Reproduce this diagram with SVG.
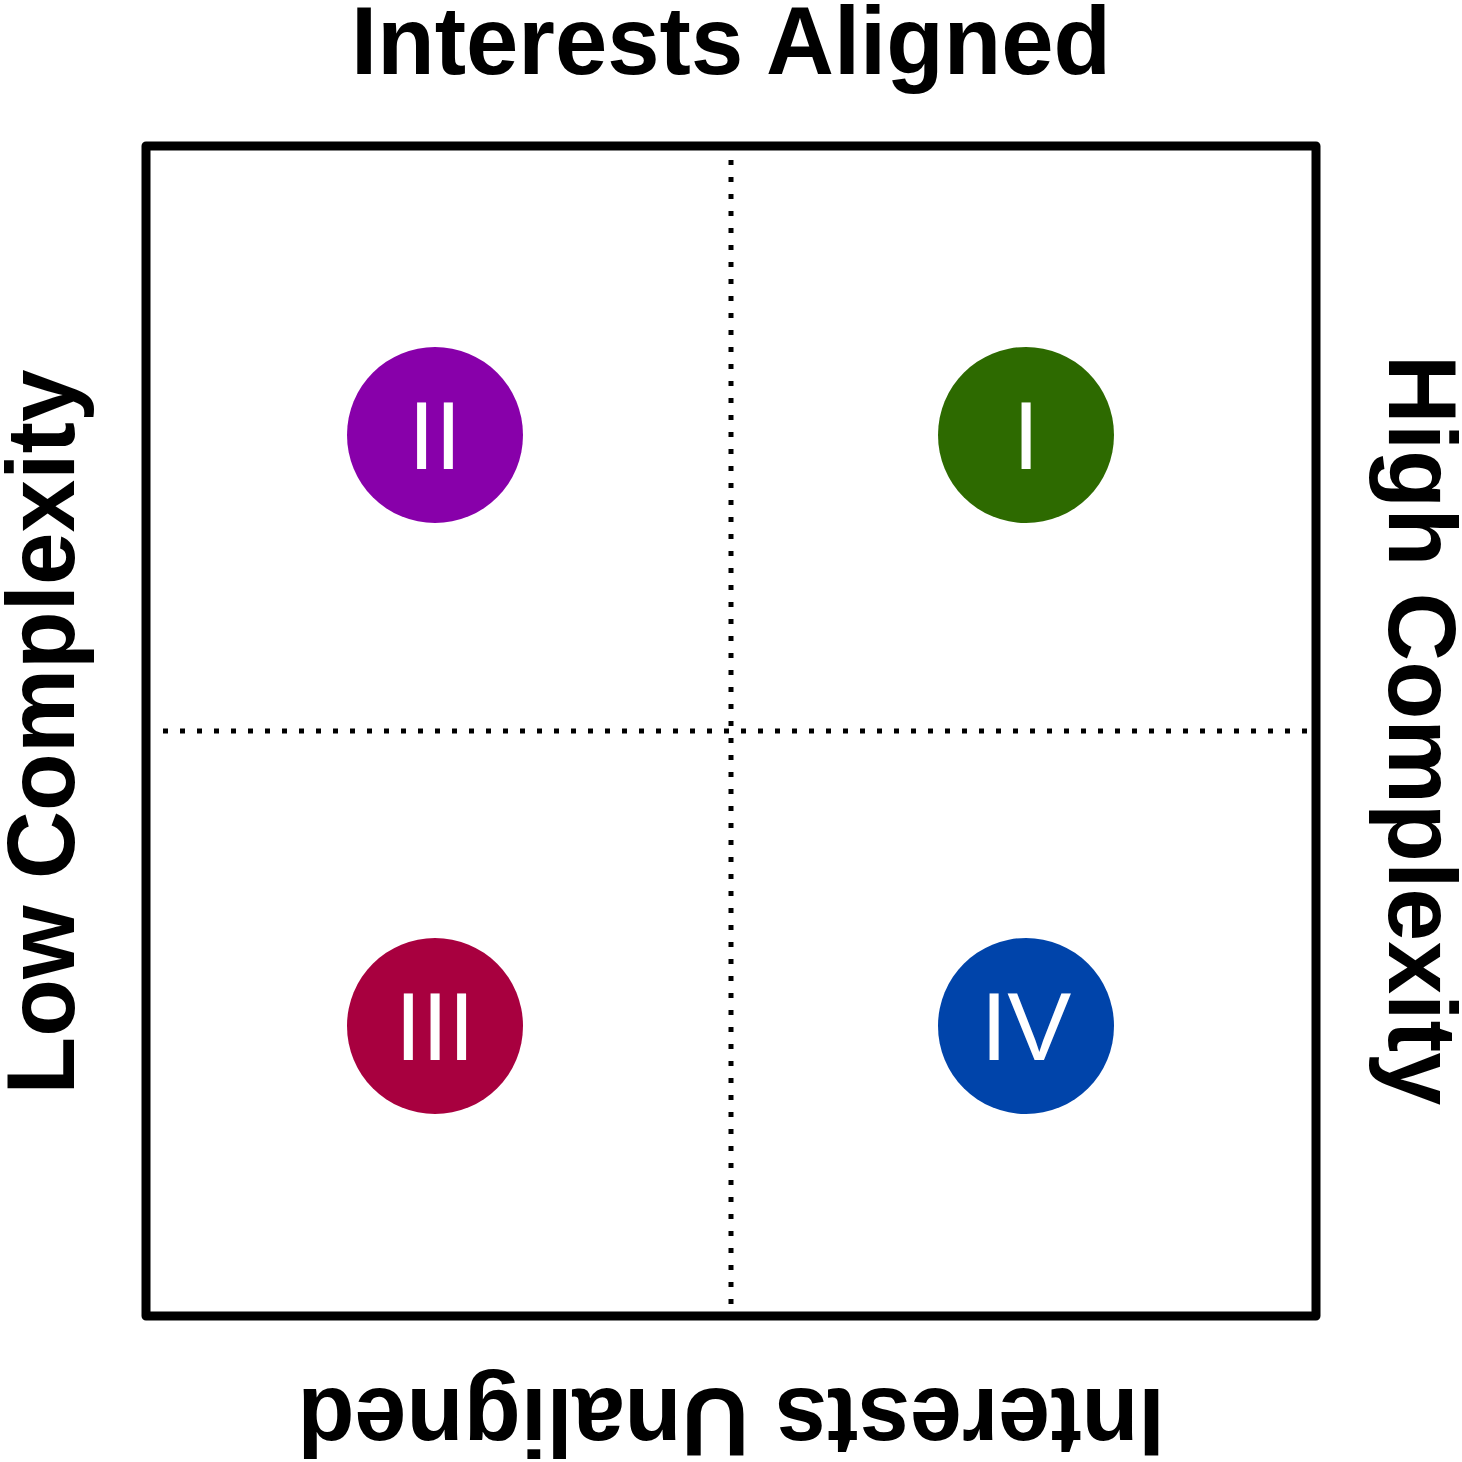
<svg xmlns="http://www.w3.org/2000/svg" width="1462" height="1462" viewBox="0 0 1462 1462">
<style>
.t{font-family:"Liberation Sans",Arial,sans-serif;font-weight:bold;font-size:97px;fill:#000;text-anchor:middle}
.n{font-family:"Liberation Sans",Arial,sans-serif;font-size:96px;fill:#fff;text-anchor:middle}
.d{stroke:#000;stroke-width:5;stroke-dasharray:5 12;fill:none}
</style>
<rect width="1462" height="1462" fill="#fff"/>
<g id="frame"><rect x="146" y="146" width="1170" height="1170" fill="none" stroke="#000" stroke-width="9" stroke-linejoin="round"/></g>
<g id="connectors">
<line class="d" x1="731" y1="160" x2="731" y2="1310"/>
<line class="d" x1="163" y1="731" x2="1310" y2="731"/>
</g>
<g id="labels">
<text class="t" x="731" y="74" textLength="760" lengthAdjust="spacingAndGlyphs">Interests Aligned</text>
<text class="t" transform="translate(731,1389) rotate(180)" textLength="867" lengthAdjust="spacingAndGlyphs">Interests Unaligned</text>
<text class="t" transform="translate(74,732) rotate(-90)" textLength="725" lengthAdjust="spacingAndGlyphs">Low Complexity</text>
<text class="t" transform="translate(1389,730) rotate(90)" textLength="750" lengthAdjust="spacingAndGlyphs">High Complexity</text>
</g>
<g id="q2"><circle cx="435" cy="435" r="88" fill="#8800AA"/><text class="n" x="435" y="469">II</text></g>
<g id="q1"><circle cx="1026" cy="435" r="88" fill="#2D6A00"/><text class="n" x="1026" y="469">I</text></g>
<g id="q3"><circle cx="435" cy="1026" r="88" fill="#A8003F"/><text class="n" x="435" y="1060">III</text></g>
<g id="q4"><circle cx="1026" cy="1026" r="88" fill="#0044AA"/><text class="n" x="1026" y="1060">IV</text></g>
</svg>
